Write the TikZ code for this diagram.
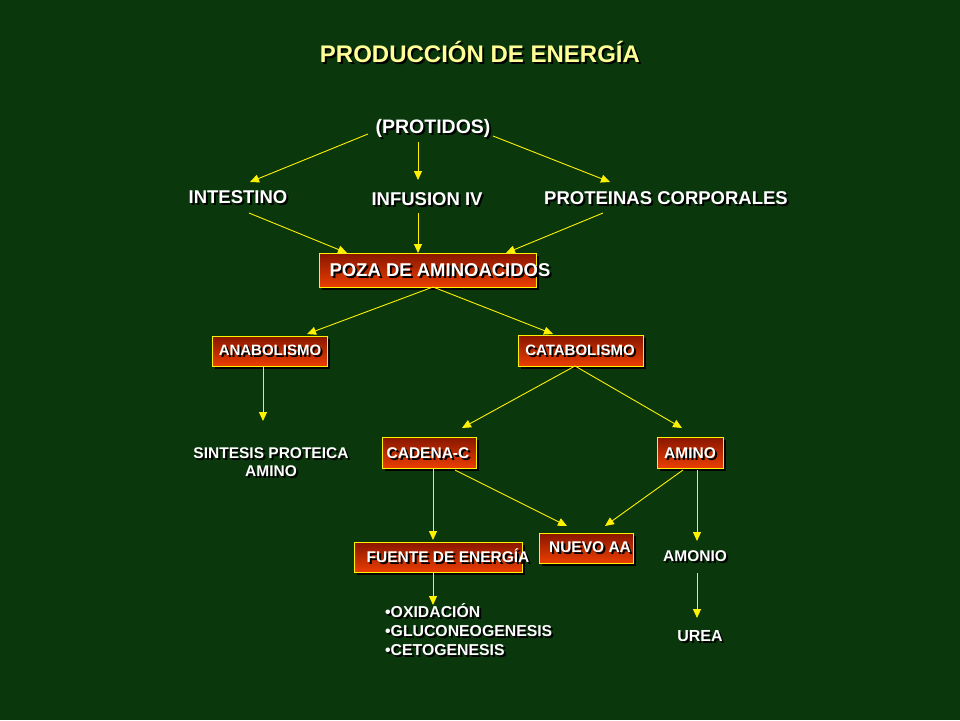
\documentclass[tikz,border=0pt]{standalone}
\usepackage{fontspec}
\setmainfont{Liberation Sans}
\usetikzlibrary{arrows.meta,calc,shadows}
\definecolor{bg}{RGB}{10,55,12}
\definecolor{boxtop}{RGB}{135,22,0}
\definecolor{boxbot}{RGB}{235,62,0}
\definecolor{ttl}{RGB}{255,255,150}
\newcommand\fsz[2]{\fontsize{#1}{#2}\selectfont\bfseries}
\newcommand\sh[1]{\rlap{\kern2pt\smash{\raisebox{-2pt}{\color{black}#1}}}#1}
\begin{document}
\begin{tikzpicture}[x=1pt,y=-1pt,
  big/.style={inner sep=0pt,text=white,font=\fsz{18.5}{22}},
  sm/.style={inner sep=0pt,text=white,font=\fsz{15.5}{18}},
  rbox/.style={draw=yellow,line width=1pt,top color=boxtop,bottom color=boxbot,inner sep=0pt,
    drop shadow={fill=black,opacity=1,shadow xshift=3pt,shadow yshift=-3pt}},
  arr/.style={draw=yellow,line width=0.9pt,-{Triangle[width=8pt,length=9pt]}}]
\fill[bg] (0,0) rectangle (960,720);
\useasboundingbox (0,0) rectangle (960,720);
% boxes
\node[rbox,minimum width=217pt,minimum height=34pt] (pozab) at (427.5,270) {};
\node[rbox,minimum width=115pt,minimum height=30pt] (anabb) at (269.5,351) {};
\node[rbox,minimum width=125pt,minimum height=31pt] (catabb) at (580.5,350.5) {};
\node[rbox,minimum width=94pt,minimum height=31pt] (cadb) at (429,452.5) {};
\node[rbox,minimum width=66pt,minimum height=31pt] (aminob) at (690,452.5) {};
\node[rbox,minimum width=168pt,minimum height=30pt] (fuenteb) at (438,557) {};
\node[rbox,minimum width=94pt,minimum height=30pt] (nuevob) at (586,548) {};
% texts
\node[inner sep=0pt,text=ttl,font=\fsz{24}{26}] (title) at (480,52) {\sh{PRODUCCIÓN DE ENERGÍA}};
\node[big,font=\fsz{19.5}{22}] (prot) at (433,128) {\sh{(PROTIDOS)}};
\node[big] (intest) at (238,197) {\sh{INTESTINO}};
\node[big] (infus) at (427,199) {\sh{INFUSION IV}};
\node[big] (protc) at (666,198) {\sh{PROTEINAS CORPORALES}};
\node[big] (poza) at (440,270) {\sh{POZA DE AMINOACIDOS}};
\node[sm,font=\fsz{15}{18}] (anab) at (270,350) {\sh{ANABOLISMO}};
\node[sm,font=\fsz{15}{18}] (catab) at (580,350) {\sh{CATABOLISMO}};
\node[sm,align=center] (sint) at (271,462) {\sh{SINTESIS PROTEICA}\\\sh{AMINO}};
\node[sm] (cad) at (428,453) {\sh{CADENA-C}};
\node[sm] (amino) at (690,453) {\sh{AMINO}};
\node[sm] (fuente) at (448,556) {\sh{FUENTE DE ENERGÍA}};
\node[sm] (nuevo) at (590,547) {\sh{NUEVO AA}};
\node[sm] (amonio) at (695,556) {\sh{AMONIO}};
\node[sm,font=\fsz{15.8}{19},anchor=west,align=left] (bul) at (385,630) {\sh{•OXIDACIÓN}\\\sh{•GLUCONEOGENESIS}\\\sh{•CETOGENESIS}};
\node[sm,font=\fsz{16}{18}] (urea) at (700,636) {\sh{UREA}};
% connectors
\draw[arr] ($(prot)+(-65,6)$) -- ($(intest)+(12,-15)$);
\draw[arr] ($(prot)+(-15,14)$) -- ($(infus)+(-9,-19)$);
\draw[arr] ($(prot)+(60,8)$) -- ($(protc)+(-56,-16)$);
\draw[arr] ($(intest)+(11,16)$) -- ($(pozab)+(-80.5,-17)$);
\draw[arr] ($(infus)+(-9,14)$) -- ($(pozab)+(-9.5,-17)$);
\draw[arr] ($(protc)+(-63,15)$) -- ($(pozab)+(78.5,-17)$);
\draw[arr] ($(pozab)+(5.5,17)$) -- ($(anabb)+(37.5,-17)$);
\draw[arr] ($(pozab)+(5.5,17)$) -- ($(catabb)+(-27.5,-16.5)$);
\draw[arr] ($(anabb)+(-6.5,15)$) -- ($(sint)+(-8,-41)$);
\draw[arr] ($(catabb)+(-5.5,15.5)$) -- ($(cadb)+(33,-24.5)$);
\draw[arr] ($(catabb)+(-5.5,15.5)$) -- ($(aminob)+(-8,-24.5)$);
\draw[arr] ($(cadb)+(4,16.5)$) -- ($(fuenteb)+(-5,-17)$);
\draw[arr] ($(cadb)+(26,17.5)$) -- ($(nuevob)+(-19,-22)$);
\draw[arr] ($(aminob)+(-7,17.5)$) -- ($(nuevob)+(19,-22)$);
\draw[arr] ($(aminob)+(7,17.5)$) -- ($(amonio)+(2,-15)$);
\draw[arr] ($(fuenteb)+(-5,16)$) -- ($(bul.west)+(48,-25)$);
\draw[arr] ($(amonio)+(2,17)$) -- ($(urea)+(-3,-18)$);
\end{tikzpicture}
\end{document}
